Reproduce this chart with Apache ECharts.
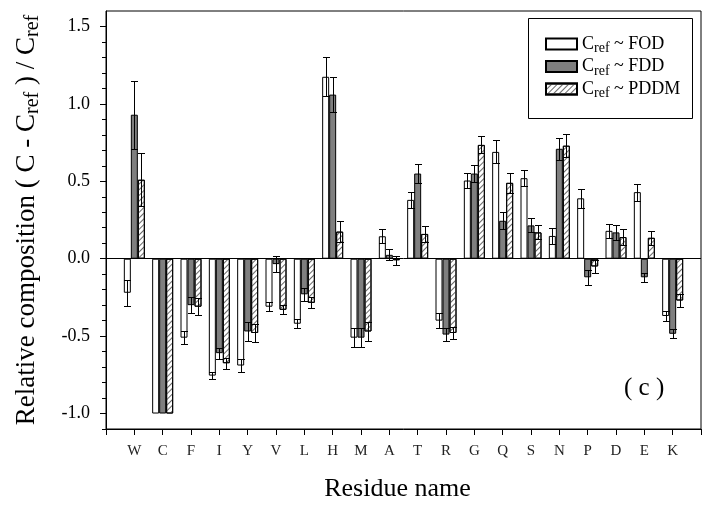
<!DOCTYPE html>
<html>
<head>
<meta charset="utf-8">
<script src="https://cdn.jsdelivr.net/npm/echarts@6/dist/echarts.min.js"></script>
<style>
    html, body { margin: 0; padding: 0; background: #fff; }
    #chart { width: 712px; height: 510px; }
</style>
</head>
<body>
<div id="chart"></div>
<script>
// residues on the x axis
var residues = ['W', 'C', 'F', 'I', 'Y', 'V', 'L', 'H', 'M', 'A', 'T', 'R', 'G', 'Q', 'S', 'N', 'P', 'D', 'E', 'K'];

// Cref ~ FOD
var fodVal = [-0.22, -1.0, -0.51, -0.755, -0.69, -0.31, -0.42, 1.175, -0.51, 0.145, 0.38, -0.40, 0.505, 0.69, 0.52, 0.147, 0.39, 0.18, 0.43, -0.37];
var fodErr = [0.085, 0, 0.04, 0.025, 0.04, 0.03, 0.03, 0.125, 0.06, 0.045, 0.05, 0.05, 0.05, 0.075, 0.05, 0.05, 0.06, 0.045, 0.055, 0.035];
// Cref ~ FDD
var fddVal = [0.93, -1.0, -0.30, -0.61, -0.47, -0.035, -0.23, 1.06, -0.51, 0.025, 0.55, -0.49, 0.55, 0.245, 0.215, 0.71, -0.12, 0.17, -0.12, -0.485];
var fddErr = [0.22, 0, 0.05, 0.035, 0.06, 0.05, 0.04, 0.115, 0.06, 0.035, 0.06, 0.04, 0.055, 0.055, 0.045, 0.07, 0.05, 0.05, 0.03, 0.03];
// Cref ~ PDDM
var pddmVal = [0.51, -1.0, -0.31, -0.675, -0.48, -0.33, -0.285, 0.175, -0.47, -0.01, 0.16, -0.48, 0.735, 0.49, 0.17, 0.73, -0.05, 0.14, 0.135, -0.27];
var pddmErr = [0.17, 0, 0.055, 0.035, 0.06, 0.03, 0.035, 0.07, 0.063, 0.03, 0.05, 0.04, 0.055, 0.065, 0.045, 0.075, 0.04, 0.05, 0.045, 0.04];

// y axis ticks
var yLabels = [-1.0, -0.5, 0.0, 0.5, 1.0, 1.5];
var yMinor = [-1.1, -0.9, -0.8, -0.7, -0.6, -0.4, -0.3, -0.2, -0.1, 0.1, 0.2, 0.3, 0.4, 0.6, 0.7, 0.8, 0.9, 1.1, 1.2, 1.3, 1.4];

var serif = "'Liberation Serif', 'DejaVu Serif', serif";
var BAR_W = 7;

// empty slot at each end so the ticks sit at the axis ends
var cats = [''].concat(residues).concat(['']);

function pad(arr) {
    return ['-'].concat(arr).concat(['-']);
}

function errData(vals, errs) {
    return vals.map(function (v, i) {
        return [i + 1, v, errs[i]];
    });
}

function errRender(offset) {
    return function (params, api) {
        var x = api.value(0), v = api.value(1), e = api.value(2);
        if (!e) return null;
        var hi = api.coord([x, v + e]);
        var lo = api.coord([x, v - e]);
        var cx = Math.round(hi[0] + offset) + 0.5;
        var y1 = Math.round(hi[1]) + 0.5;
        var y2 = Math.round(lo[1]) + 0.5;
        var hw = BAR_W / 2;
        var st = { stroke: '#000', lineWidth: 1 };
        return {
            type: 'group',
            children: [
                { type: 'line', shape: { x1: cx, y1: y1, x2: cx, y2: y2 }, style: st },
                { type: 'line', shape: { x1: cx - hw, y1: y1, x2: cx + hw, y2: y1 }, style: st },
                { type: 'line', shape: { x1: cx - hw, y1: y2, x2: cx + hw, y2: y2 }, style: st }
            ]
        };
    };
}

var chart = echarts.init(document.getElementById('chart'));
chart.setOption({
    animation: false,
    backgroundColor: '#fff',
    textStyle: { fontFamily: serif },
    title: {
        text: '( c )',
        left: 619,
        top: 371,
        textStyle: { fontFamily: serif, fontSize: 25, fontWeight: 'normal', color: '#000' }
    },
    grid: {
        left: 106,
        right: 11,
        top: 11,
        bottom: 81,
        show: true,
        borderColor: '#000',
        borderWidth: 1
    },
    graphic: [{
        type: 'rect',
        shape: { x: 528.5, y: 18.5, width: 164, height: 100 },
        style: { fill: '#fff', stroke: '#000', lineWidth: 1 },
        z: 20
    }],
    legend: {
        data: ['FOD', 'FDD', 'PDDM'],
        orient: 'vertical',
        left: 540,
        top: 30,
        itemWidth: 31,
        itemHeight: 11,
        itemGap: 2,
        icon: 'rect',
        z: 30,
        formatter: function (name) {
            return '{c|C}{s|ref}{c| ~ ' + name + '}';
        },
        textStyle: {
            color: '#000',
            fontFamily: serif,
            fontSize: 18,
            rich: {
                c: { fontFamily: serif, fontSize: 18, color: '#000' },
                s: { fontFamily: serif, fontSize: 14, color: '#000', padding: [9, 0, 0, 0] }
            }
        }
    },
    xAxis: {
        type: 'category',
        data: cats,
        boundaryGap: false,
        name: 'Residue name',
        nameLocation: 'middle',
        nameGap: 47,
        nameTextStyle: { fontFamily: serif, fontSize: 26, color: '#000', padding: [0, 12, 0, 0] },
        axisLine: { onZero: false, lineStyle: { color: '#000', width: 1 } },
        axisTick: { show: true, interval: 0, length: 6, alignWithLabel: true, lineStyle: { color: '#000' } },
        axisLabel: { interval: 0, margin: 15, fontFamily: serif, fontSize: 15, color: '#222' },
        splitLine: { show: false }
    },
    yAxis: [{
        type: 'value',
        min: -1.1,
        max: 1.6,
        name: 'Relative composition ( C - C{s|ref} ) / C{s|ref}',
        nameLocation: 'middle',
        nameGap: 63,
        nameRotate: 90,
        nameTextStyle: {
            fontFamily: serif,
            fontSize: 27,
            color: '#000',
            rich: {
                s: { fontFamily: serif, fontSize: 20, color: '#000', padding: [12, 0, 0, 0] }
            }
        },
        axisLine: { show: true, lineStyle: { color: '#000', width: 1 } },
        axisTick: { show: true, customValues: yLabels, length: 6, lineStyle: { color: '#000' } },
        axisLabel: {
            customValues: yLabels,
            margin: 16,
            fontFamily: serif,
            fontSize: 18,
            color: '#000',
            formatter: function (v) { return v.toFixed(1); }
        },
        splitLine: { show: false }
    }, {
        type: 'value',
        min: -1.1,
        max: 1.6,
        position: 'left',
        axisLine: { show: false },
        axisTick: { show: true, customValues: yMinor, length: 4, lineStyle: { color: '#000' } },
        axisLabel: { show: false },
        splitLine: { show: false }
    }],
    series: [{
        name: 'FOD',
        type: 'bar',
        data: pad(fodVal),
        barWidth: BAR_W,
        barGap: '0%',
        itemStyle: { color: '#fff', borderColor: '#000', borderWidth: 1 },
        markLine: {
            silent: true,
            symbol: 'none',
            label: { show: false },
            lineStyle: { color: '#000', width: 1, type: 'solid' },
            data: [{ yAxis: 0 }]
        }
    }, {
        name: 'FDD',
        type: 'bar',
        data: pad(fddVal),
        barWidth: BAR_W,
        barGap: '0%',
        itemStyle: { color: '#7f7f7f', borderColor: '#000', borderWidth: 1 }
    }, {
        name: 'PDDM',
        type: 'bar',
        data: pad(pddmVal),
        barWidth: BAR_W,
        barGap: '0%',
        itemStyle: {
            color: '#fff',
            borderColor: '#000',
            borderWidth: 1,
            decal: {
                symbol: 'rect',
                symbolSize: 1,
                color: '#666',
                dashArrayX: [1, 0],
                dashArrayY: [1, 3],
                rotation: -Math.PI / 4
            }
        }
    }, {
        type: 'custom',
        data: errData(fodVal, fodErr),
        renderItem: errRender(-BAR_W),
        z: 5
    }, {
        type: 'custom',
        data: errData(fddVal, fddErr),
        renderItem: errRender(0),
        z: 5
    }, {
        type: 'custom',
        data: errData(pddmVal, pddmErr),
        renderItem: errRender(BAR_W),
        z: 5
    }]
});
</script>
</body>
</html>
